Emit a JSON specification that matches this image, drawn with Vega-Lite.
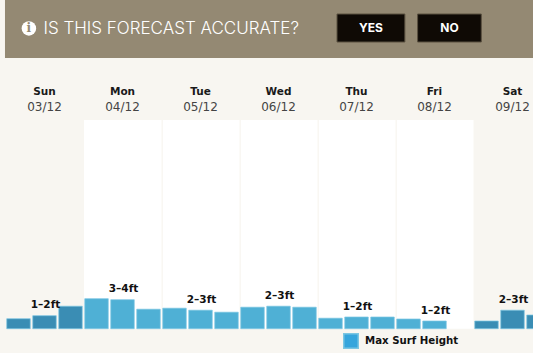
{"$schema":"https://vega.github.io/schema/vega-lite/v6.json","width":533,"height":353,"padding":0,"autosize":{"type":"fit","contains":"padding"},"background":"#f8f6f1","view":{"stroke":null},"config":{"axis":{"disable":true},"scale":{"continuousPadding":0}},
"datasets":{
"bars":[
{"period":0,"day":"Sun","height":1.0,"weekend":true,"series":"Max Surf Height"},
{"period":1,"day":"Sun","height":1.3,"label":"1–2ft","weekend":true,"series":"Max Surf Height"},
{"period":2,"day":"Sun","height":2.25,"weekend":true,"series":"Max Surf Height"},
{"period":3,"day":"Mon","height":3.0,"weekend":false,"series":"Max Surf Height"},
{"period":4,"day":"Mon","height":2.9,"label":"3–4ft","weekend":false,"series":"Max Surf Height"},
{"period":5,"day":"Mon","height":1.95,"weekend":false,"series":"Max Surf Height"},
{"period":6,"day":"Tue","height":2.05,"weekend":false,"series":"Max Surf Height"},
{"period":7,"day":"Tue","height":1.85,"label":"2–3ft","weekend":false,"series":"Max Surf Height"},
{"period":8,"day":"Tue","height":1.65,"weekend":false,"series":"Max Surf Height"},
{"period":9,"day":"Wed","height":2.15,"weekend":false,"series":"Max Surf Height"},
{"period":10,"day":"Wed","height":2.25,"label":"2–3ft","weekend":false,"series":"Max Surf Height"},
{"period":11,"day":"Wed","height":2.15,"weekend":false,"series":"Max Surf Height"},
{"period":12,"day":"Thu","height":1.05,"weekend":false,"series":"Max Surf Height"},
{"period":13,"day":"Thu","height":1.17,"label":"1–2ft","weekend":false,"series":"Max Surf Height"},
{"period":14,"day":"Thu","height":1.17,"weekend":false,"series":"Max Surf Height"},
{"period":15,"day":"Fri","height":0.97,"weekend":false,"series":"Max Surf Height"},
{"period":16,"day":"Fri","height":0.77,"label":"1–2ft","weekend":false,"series":"Max Surf Height"},
{"period":18,"day":"Sat","height":0.77,"weekend":true,"series":"Max Surf Height"},
{"period":19,"day":"Sat","height":1.85,"label":"2–3ft","weekend":true,"series":"Max Surf Height"},
{"period":20,"day":"Sat","height":1.37,"weekend":true,"series":"Max Surf Height"}
],
"days":[
{"period":1,"name":"Sun","date":"03/12"},
{"period":4,"name":"Mon","date":"04/12"},
{"period":7,"name":"Tue","date":"05/12"},
{"period":10,"name":"Wed","date":"06/12"},
{"period":13,"name":"Thu","date":"07/12"},
{"period":16,"name":"Fri","date":"08/12"},
{"period":19,"name":"Sat","date":"09/12"}
],
"columns":[
{"start":2.52,"end":5.5},{"start":5.55,"end":8.5},{"start":8.55,"end":11.5},{"start":11.55,"end":14.5},{"start":14.55,"end":17.5}
],
"buttons":[{"text":"YES","start":12.25,"end":14.86},{"text":"NO","start":15.35,"end":17.8}]
},
"layer":[
{"data":{"values":[{"a":1}]},"mark":{"type":"rect","fill":"#948973"},"encoding":{
"x":{"datum":-0.52,"type":"quantitative","scale":{"domain":[-0.7115,19.788],"range":[0,533],"nice":false,"zero":false,"padding":0},"axis":null},
"x2":{"datum":19.788},
"y":{"datum":27.07,"type":"quantitative","scale":{"domain":[-2.43,32.87],"range":[353,0],"nice":false,"zero":false,"padding":0},"axis":null},
"y2":{"datum":32.87}}},
{"data":{"name":"columns"},"mark":{"type":"rect","fill":"#ffffff"},"encoding":{
"x":{"field":"start","type":"quantitative"},"x2":{"field":"end"},
"y":{"datum":0,"type":"quantitative"},"y2":{"datum":20.87}}},
{"data":{"name":"bars"},"mark":{"type":"bar","width":23.5,"clip":true,"stroke":"#7cc6e2","strokeWidth":1,"strokeOpacity":0.7},"encoding":{
"x":{"field":"period","type":"quantitative"},
"y":{"field":"height","type":"quantitative"},"y2":{"datum":0},
"color":{"condition":[{"test":"datum.weekend","value":"#3a8db4"},{"test":"!datum.weekend","value":"#4fb0d5"}],"field":"series","type":"nominal","scale":{"domain":["Max Surf Height"],"range":["#36a5dc"]},
"legend":{"orient":"none","legendX":343,"legendY":333,"title":null,"symbolType":"square","symbolSize":210,"symbolStrokeColor":"#7cc6e2","labelFont":"DejaVu Sans","labelFontSize":10.2,"labelFontWeight":"bold","labelColor":"#111111","labelOffset":6}}}},
{"data":{"name":"bars"},"transform":[{"filter":"datum.label"}],"mark":{"type":"text","font":"DejaVu Sans","fontSize":10.5,"fontWeight":"bold","color":"#111111","dy":-10.5,"dx":1,"baseline":"middle"},"encoding":{
"x":{"field":"period","type":"quantitative"},"y":{"field":"height","type":"quantitative"},"text":{"field":"label"}}},
{"data":{"name":"days"},"mark":{"type":"text","font":"DejaVu Sans","fontSize":10.5,"fontWeight":"bold","color":"#1a1a1a","baseline":"middle"},"encoding":{
"x":{"field":"period","type":"quantitative"},"y":{"datum":23.7,"type":"quantitative"},"text":{"field":"name"}}},
{"data":{"name":"days"},"mark":{"type":"text","font":"DejaVu Sans","fontSize":12,"color":"#444444","baseline":"middle"},"encoding":{
"x":{"field":"period","type":"quantitative"},"y":{"datum":22.14,"type":"quantitative"},"text":{"field":"date"}}},
{"data":{"name":"buttons"},"mark":{"type":"rect","fill":"#0f0a05","stroke":"#5a5040","strokeWidth":1},"encoding":{
"x":{"field":"start","type":"quantitative"},"x2":{"field":"end"},
"y":{"datum":28.67,"type":"quantitative"},"y2":{"datum":31.47}}},
{"data":{"name":"buttons"},"transform":[{"calculate":"(datum.start+datum.end)/2","as":"mid"}],"mark":{"type":"text","font":"Inter","fontSize":12,"fontWeight":"bold","color":"#ffffff","baseline":"middle"},"encoding":{
"x":{"field":"mid","type":"quantitative"},"y":{"datum":30.1,"type":"quantitative"},"text":{"field":"text"}}},
{"data":{"values":[{"text":"IS THIS FORECAST ACCURATE?"}]},"mark":{"type":"text","font":"Inter","fontSize":17,"fontWeight":300,"color":"#ffffff","align":"left","baseline":"middle"},"encoding":{
"x":{"datum":0.96,"type":"quantitative"},"y":{"datum":29.94,"type":"quantitative"},"text":{"field":"text"}}},
{"data":{"values":[{"text":"i"}]},"mark":{"type":"point","filled":true,"fill":"#ffffff","opacity":1,"size":210,"shape":"circle"},"encoding":{
"x":{"datum":0.4,"type":"quantitative"},"y":{"datum":30.03,"type":"quantitative"}}},
{"data":{"values":[{"text":"i"}]},"mark":{"type":"text","font":"DejaVu Serif","fontSize":12,"fontWeight":"bold","color":"#948973","baseline":"middle"},"encoding":{
"x":{"datum":0.4,"type":"quantitative"},"y":{"datum":30.03,"type":"quantitative"},"text":{"field":"text"}}}
],
"resolve":{"scale":{"x":"shared","y":"shared"}}}
